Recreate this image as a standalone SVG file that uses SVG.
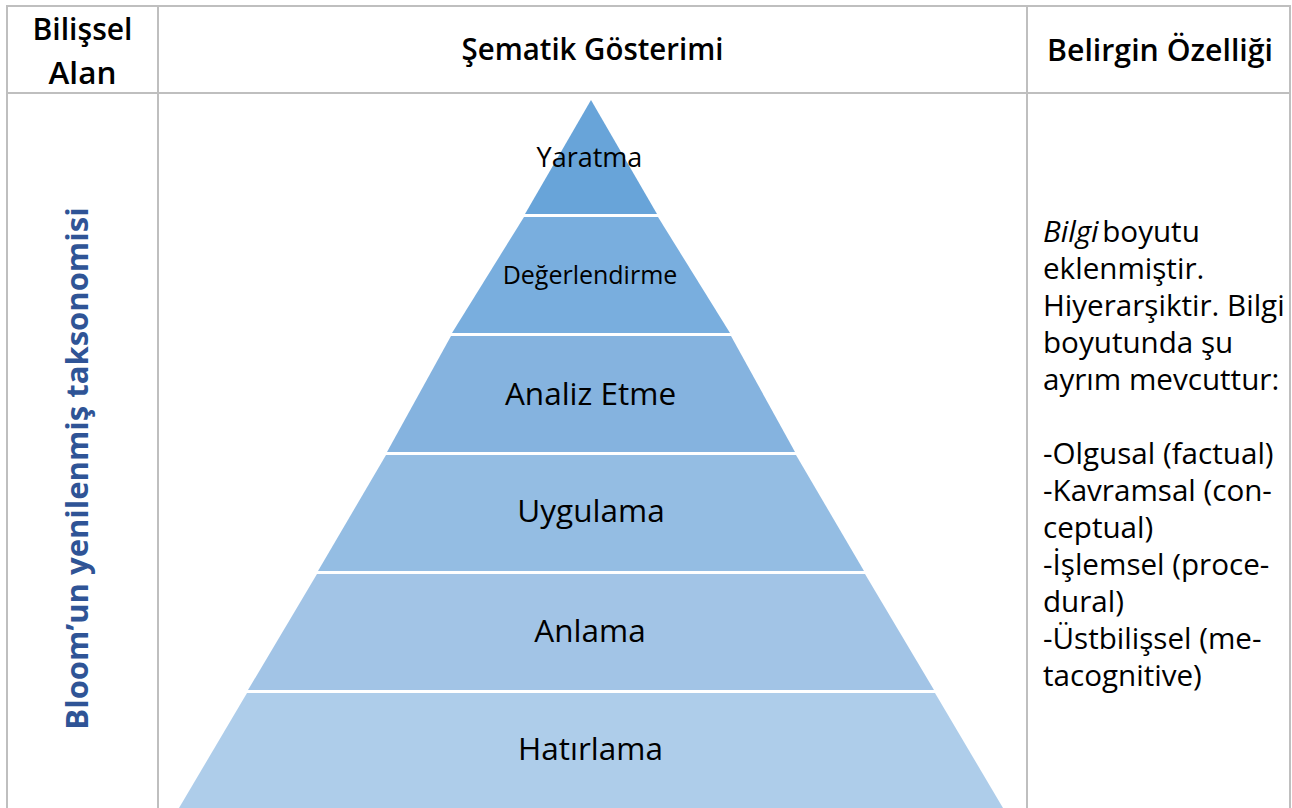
<svg xmlns="http://www.w3.org/2000/svg" width="1292" height="808" viewBox="0 0 1292 808">
<style>
.grid{stroke:#BFBFBF;stroke-width:2;fill:none}
.hdr{font-family:"Open Sans","Noto Sans",sans-serif;font-size:31.5px;font-weight:600;fill:#000;text-anchor:middle}
.lbl{font-family:"Open Sans","Noto Sans",sans-serif;fill:#000;text-anchor:middle}
.side{font-family:"Open Sans","Noto Sans",sans-serif;font-size:31px;font-weight:bold;fill:#2F5496;text-anchor:middle}
.body{font-family:"Open Sans","Noto Sans",sans-serif;font-size:29.6px;fill:#000}
</style>
<rect width="1292" height="808" fill="#FFFFFF"/>
<g id="table">
<line class="grid" x1="6" y1="6" x2="1291" y2="6"/>
<line class="grid" x1="7" y1="6" x2="7" y2="808"/>
<line class="grid" x1="158" y1="6" x2="158" y2="808"/>
<line class="grid" x1="1027" y1="6" x2="1027" y2="808"/>
<line class="grid" x1="1290" y1="6" x2="1290" y2="808"/>
<line class="grid" x1="6" y1="93" x2="1291" y2="93"/>
</g>
<g id="header">
<text class="hdr" x="82.5" y="40" textLength="100" lengthAdjust="spacingAndGlyphs">Bilişsel</text>
<text class="hdr" x="82.5" y="84">Alan</text>
<text class="hdr" x="592.5" y="60" textLength="262" lengthAdjust="spacingAndGlyphs">Şematik Gösterimi</text>
<text class="hdr" x="1160" y="61" textLength="226" lengthAdjust="spacingAndGlyphs">Belirgin Özelliği</text>
</g>
<g id="side-label">
<text class="side" transform="translate(88,468.5) rotate(-90)">Bloom’un yenilenmiş taksonomisi</text>
</g>
<g id="pyramid">
<g id="yaratma">
<polygon points="591,100 657,214 525,214" fill="#68A4D9"/>
<text class="lbl" x="589.5" y="167" font-size="27">Yaratma</text>
</g>
<g id="degerlendirme">
<polygon points="524,217 658,217 730,333 452,333" fill="#79AEDE"/>
<text class="lbl" x="590" y="284" font-size="25">Değerlendirme</text>
</g>
<g id="analiz">
<polygon points="451,336 731,336 795,452 387,452" fill="#85B3DF"/>
<text class="lbl" x="590.5" y="405" font-size="31.5">Analiz Etme</text>
</g>
<g id="uygulama">
<polygon points="386,455 796,455 864,571 318,571" fill="#94BDE3"/>
<text class="lbl" x="591" y="522" font-size="31.5">Uygulama</text>
</g>
<g id="anlama">
<polygon points="317,574 865,574 934,690 248,690" fill="#A2C4E6"/>
<text class="lbl" x="590" y="642" font-size="31.5">Anlama</text>
</g>
<g id="hatirlama">
<polygon points="247,693 935,693 1003,808 179,808" fill="#AECDEA"/>
<text class="lbl" x="590.5" y="760" font-size="31.5">Hatırlama</text>
</g>
</g>
<g id="description">
<text class="body" x="1043" y="242"><tspan font-style="italic">Bilgi</tspan><tspan dx="-4"> boyutu</tspan></text>
<text class="body" x="1043" y="279">eklenmiştir.</text>
<text class="body" x="1043" y="316">Hiyerarşiktir. Bilgi</text>
<text class="body" x="1043" y="353">boyutunda şu</text>
<text class="body" x="1043" y="390">ayrım mevcuttur:</text>
<text class="body" x="1043" y="464">-Olgusal (factual)</text>
<text class="body" x="1043" y="501">-Kavramsal (con-</text>
<text class="body" x="1043" y="538">ceptual)</text>
<text class="body" x="1043" y="575">-İşlemsel (proce-</text>
<text class="body" x="1043" y="612">dural)</text>
<text class="body" x="1043" y="649">-Üstbilişsel (me-</text>
<text class="body" x="1043" y="686">tacognitive)</text>
</g>
</svg>
